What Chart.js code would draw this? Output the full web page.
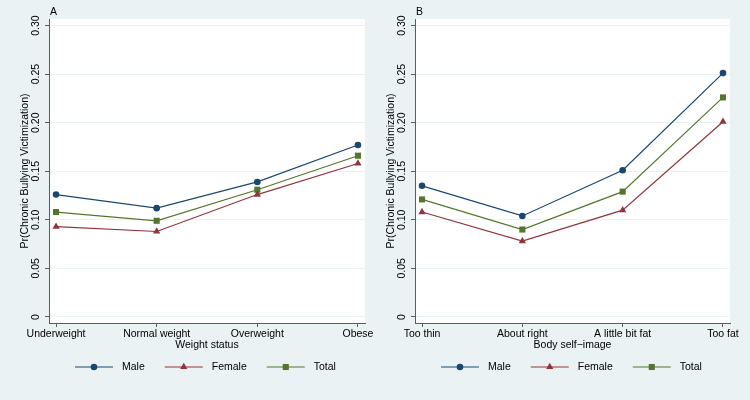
<!DOCTYPE html>
<html>
<head>
<meta charset="utf-8">
<script src="https://cdn.jsdelivr.net/npm/chart.js@4.4.0/dist/chart.umd.min.js"></script>
<style>
  html, body { margin: 0; padding: 0; background: #eaf2f3; }
  #wrap { position: relative; width: 750px; height: 400px; background: #eaf2f3; }
  canvas { position: absolute; top: 0; }
</style>
</head>
<body>
<div id="wrap">
  <canvas id="panelA" width="375" height="400" style="left:0"></canvas>
  <canvas id="panelB" width="375" height="400" style="left:375px"></canvas>
</div>
<script>
// categories
const weightCats = ['Underweight', 'Normal weight', 'Overweight', 'Obese'];
const imageCats = ['Too thin', 'About right', 'A little bit fat', 'Too fat'];

// predicted probabilities
const weightMale = [0.126, 0.112, 0.139, 0.177];
const weightFemale = [0.093, 0.088, 0.126, 0.158];
const weightTotal = [0.108, 0.099, 0.131, 0.166];

const imageMale = [0.135, 0.104, 0.151, 0.251];
const imageFemale = [0.108, 0.078, 0.110, 0.201];
const imageTotal = [0.121, 0.090, 0.129, 0.226];

const yTicks = [0, 0.05, 0.10, 0.15, 0.20, 0.25, 0.30];
const yTickLabels = ['0', '0.05', '0.10', '0.15', '0.20', '0.25', '0.30'];
const seriesNames = ['Male', 'Female', 'Total'];

const COLORS = ['#1a476f', '#90353b', '#55752f'];
const STYLES = ['circle', 'triangle', 'rect'];
const RADII = [3.3, 4.2, 4.3];
const FONT = '"Liberation Sans", Arial, sans-serif';
const AXIS = '#5c5c5c';

function drawMarker(ctx, style, x, y, r, color) {
    ctx.fillStyle = color;
    ctx.beginPath();
    if (style === 'circle') {
        ctx.arc(x, y, r, 0, Math.PI * 2);
    } else if (style === 'triangle') {
        const h = r * 1.5;
        ctx.moveTo(x, y - h * 2 / 3);
        ctx.lineTo(x + r * 0.87, y + h / 3);
        ctx.lineTo(x - r * 0.87, y + h / 3);
        ctx.closePath();
    } else {
        const s = r * Math.SQRT1_2;
        ctx.rect(x - s, y - s, s * 2, s * 2);
    }
    ctx.fill();
}

const panelDecor = {
    id: 'panelDecor',
    beforeDraw(chart) {
        const { ctx, chartArea: a } = chart;
        ctx.save();
        ctx.fillStyle = '#eaf2f3';
        ctx.fillRect(0, 0, chart.width, chart.height);
        ctx.fillStyle = '#ffffff';
        ctx.fillRect(a.left, a.top, a.right - a.left, a.bottom - a.top);
        ctx.restore();
    },
    afterDraw(chart, args, opts) {
        const { ctx, chartArea: a } = chart;
        ctx.save();
        ctx.font = '10.5px ' + FONT;
        ctx.fillStyle = '#000';
        ctx.textBaseline = 'middle';
        ctx.textAlign = 'left';
        ctx.fillText(opts.letter, a.left + 1, 12);

        // legend: line with marker, then label
        let x = a.left + opts.legendStart;
        const y = 367;
        chart.data.datasets.forEach((ds, i) => {
            ctx.strokeStyle = ds.borderColor;
            ctx.lineWidth = 1.2;
            ctx.beginPath();
            ctx.moveTo(x, y);
            ctx.lineTo(x + 38, y);
            ctx.stroke();
            drawMarker(ctx, ds.pointStyle, x + 19, y, ds.pointRadius, ds.borderColor);
            ctx.fillStyle = '#000';
            ctx.fillText(ds.label, x + 47, y);
            x += 47 + ctx.measureText(ds.label).width + 20;
        });
        ctx.restore();
    }
};

function makePanel(id, opts) {
    const series = [opts.male, opts.female, opts.total];
    const datasets = series.map((vals, i) => ({
        label: seriesNames[i],
        data: vals.map((v, k) => ({ x: k, y: v })),
        borderColor: COLORS[i],
        backgroundColor: COLORS[i],
        borderWidth: 1.2,
        pointStyle: STYLES[i],
        pointRadius: RADII[i],
        pointBorderWidth: 0,
        tension: 0
    }));

    return new Chart(document.getElementById(id), {
        type: 'line',
        data: { datasets },
        options: {
            responsive: false,
            animation: false,
            devicePixelRatio: 1,
            layout: { padding: { left: 0, right: opts.padRight, top: 19, bottom: 42 } },
            plugins: {
                legend: { display: false },
                tooltip: { enabled: false },
                panelDecor: { letter: opts.letter, legendStart: 26 }
            },
            scales: {
                x: {
                    type: 'linear',
                    min: -0.07,
                    max: 3.07,
                    afterBuildTicks: s => { s.ticks = opts.cats.map((c, k) => ({ value: k })); },
                    afterFit: s => { s.height = 35; },
                    ticks: {
                        font: { family: FONT, size: 10.5 },
                        color: '#000',
                        padding: 1,
                        maxRotation: 0,
                        autoSkip: false,
                        callback: v => opts.cats[v]
                    },
                    grid: { drawOnChartArea: false, drawTicks: true, tickLength: 4, tickColor: AXIS },
                    border: { display: true, color: AXIS, width: 1 },
                    title: {
                        display: true,
                        text: opts.xTitle,
                        color: '#000',
                        font: { family: FONT, size: 10.5 },
                        padding: { top: 0, bottom: 6.5 }
                    }
                },
                y: {
                    min: -0.0062,
                    max: 0.3067,
                    afterBuildTicks: s => { s.ticks = yTicks.map(v => ({ value: v })); },
                    afterFit: s => { s.width = opts.chartLeft; },
                    ticks: {
                        font: { family: FONT, size: 10.5 },
                        color: '#000',
                        minRotation: 90,
                        maxRotation: 90,
                        crossAlign: 'center',
                        padding: -1,
                        callback: v => yTickLabels[yTicks.indexOf(v)]
                    },
                    grid: { color: '#eaf2f3', lineWidth: 1, drawTicks: true, tickLength: 4, tickColor: AXIS },
                    border: { display: true, color: AXIS, width: 1 },
                    title: {
                        display: true,
                        text: 'Pr(Chronic Bullying Victimization)',
                        color: '#000',
                        font: { family: FONT, size: 10.5 },
                        padding: { top: opts.chartLeft - 24 - 6.3, bottom: 0 }
                    }
                }
            }
        },
        plugins: [panelDecor]
    });
}

makePanel('panelA', {
    letter: 'A', cats: weightCats, xTitle: 'Weight status',
    male: weightMale, female: weightFemale, total: weightTotal,
    chartLeft: 49, padRight: 10
});
makePanel('panelB', {
    letter: 'B', cats: imageCats, xTitle: 'Body self\u2212image',
    male: imageMale, female: imageFemale, total: imageTotal,
    chartLeft: 40, padRight: 20
});
</script>
</body>
</html>
